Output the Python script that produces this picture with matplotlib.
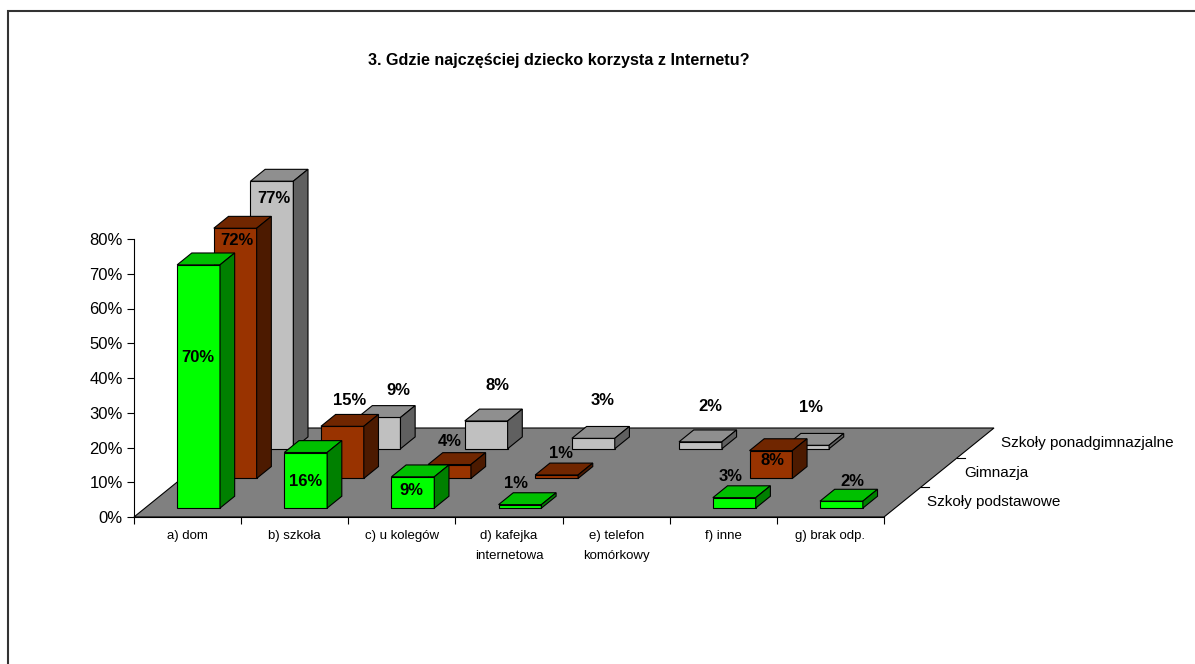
import matplotlib
matplotlib.use("Agg")
import matplotlib.pyplot as plt
from matplotlib.patches import Polygon, Rectangle

plt.rcParams['font.family'] = ['Liberation Sans', 'DejaVu Sans']

# ---------------- data ----------------
title = "3. Gdzie najczęściej dziecko korzysta z Internetu?"
categories = ["a) dom", "b) szkoła", "c) u kolegów", "d) kafejka\ninternetowa",
              "e) telefon\nkomórkowy", "f) inne", "g) brak odp."]
series_names = ["Szkoły podstawowe", "Gimnazja", "Szkoły ponadgimnazjalne"]
podstawowe = [70, 16, 9, 1, None, 3, 2]
gimnazja = [72, 15, 4, 1, None, 8, None]
ponadgimnazjalne = [77, 9, 8, 3, 2, 1, None]
yticks = [0, 10, 20, 30, 40, 50, 60, 70, 80]
ytick_labels = [f"{t}%" for t in yticks]

# ---------------- style ----------------
face_colors = [("#00FF00", "#00C000", "#008000"),   # front, top, side
               ("#993300", "#702600", "#4C1A00"),
               ("#C0C0C0", "#8F8F8F", "#606060")]
floor_color = "#808080"
# label nudges in pixels (dx right, dy down) relative to top-face centre
label_dx = [[-8, -7, -9, -11, 0, -11, 4],
            [-6, 0, -7, -3, 0, -6, 0],
            [-5, 12, 4, 2, 3, -4, 0]]
label_dy = [[99, 34.5, 20, -15, 0, -15, -14],
            [18, -20, -17, -16, 0, 16, 0],
            [23, -21, -30, -32, -29, -32, 0]]

W, H = 1195, 664
fig = plt.figure(figsize=(W / 100, H / 100), dpi=100)
ax = fig.add_axes([0, 0, 1, 1])

# layout of the projected plot (pixels)
X0, Y0 = 134, 517          # origin (front-left floor corner)
PXC = (884 - 134) / 7      # pixels per category
PXP = (517 - 239) / 80     # pixels per percent
SLOT_DX, SLOT_DY = 110 / 3, 89 / 3   # oblique depth offset per series slot
DX = SLOT_DX / PXC
DY = SLOT_DY / PXP

ax.set_xlim(-X0 / PXC, (W - X0) / PXC)
ax.set_ylim((Y0 - H) / PXP, Y0 / PXP)
ax.patch.set_visible(False)


def P(x, y, z):
    return (x + z * DX, y + z * DY)


ncat = len(categories)
nser = len(series_names)

# floor
floor = Polygon([P(0, 0, 0), P(ncat, 0, 0), P(ncat, 0, nser), P(0, 0, nser)],
                closed=True, facecolor=floor_color, edgecolor="black", lw=0.8, zorder=1)
ax.add_patch(floor)

series_values = [podstawowe, gimnazja, ponadgimnazjalne]
lw = 0.8
for s in reversed(range(nser)):
    front, top, side = face_colors[s]
    z0, z1 = s + 0.3, s + 0.7
    for i, v in enumerate(series_values[s]):
        if v is None:
            continue
        x0, x1 = i + 0.3, i + 0.7
        zo = 3 + (nser - s)
        ax.add_patch(Polygon([P(x0, 0, z0), P(x1, 0, z0), P(x1, v, z0), P(x0, v, z0)],
                             facecolor=front, edgecolor="black", lw=lw, zorder=zo))
        ax.add_patch(Polygon([P(x0, v, z0), P(x1, v, z0), P(x1, v, z1), P(x0, v, z1)],
                             facecolor=top, edgecolor="black", lw=lw, zorder=zo))
        ax.add_patch(Polygon([P(x1, 0, z0), P(x1, 0, z1), P(x1, v, z1), P(x1, v, z0)],
                             facecolor=side, edgecolor="black", lw=lw, zorder=zo))

# data labels
for s in range(nser):
    for i, v in enumerate(series_values[s]):
        if v is None:
            continue
        cx, cy = P(i + 0.5, v, s + 0.5)
        cx += label_dx[s][i] / PXC
        cy -= label_dy[s][i] / PXP
        ax.text(cx, cy, f"{v}%", ha="center", va="center", fontsize=12,
                fontweight="bold", color="black", zorder=20)

# axes: value axis and category axis via spines
for side_ in ("top", "right"):
    ax.spines[side_].set_visible(False)
ax.spines["left"].set_position(("data", 0))
ax.spines["left"].set_bounds(0, yticks[-1])
ax.spines["bottom"].set_position(("data", 0))
ax.spines["bottom"].set_bounds(0, ncat)
for sp in ("left", "bottom"):
    ax.spines[sp].set_linewidth(0.8)
    ax.spines[sp].set_color("black")
    ax.spines[sp].set_zorder(2)

ax.set_yticks(yticks, ytick_labels)
ax.tick_params(axis="y", direction="out", length=5, width=0.8, labelsize=12, pad=3)
ax.set_xticks(range(ncat + 1), [""] * (ncat + 1))
ax.set_xticks([i + 0.5 for i in range(ncat)], categories, minor=True)
ax.tick_params(axis="x", which="major", direction="out", length=5, width=0.8)
ax.tick_params(axis="x", which="minor", length=0, labelsize=9.5, pad=9)
for lab in ax.get_xticklabels(minor=True):
    lab.set_linespacing(1.9)

# series (depth) axis
for z in range(1, nser):
    x, y = P(ncat, 0, z)
    ax.plot([x, x + 8 / PXC], [y, y], color="black", lw=0.8, zorder=2)
for s, name in enumerate(series_names):
    x, y = P(ncat, 0, s + 0.5)
    ax.text(x + 25 / PXC, y, name, ha="left", va="center", fontsize=11, zorder=20)

# title
fig.text(559 / W, 1 - 60 / H, title, ha="center", va="center", fontsize=11.6,
         fontweight="bold")

# chart border
fig.patches.append(Rectangle((8 / W, -0.1), 1.2, (1 - 11 / H) + 0.1, transform=fig.transFigure,
                             fill=False, edgecolor="#333333", lw=1.5))

fig.savefig("out.png", dpi=100)
